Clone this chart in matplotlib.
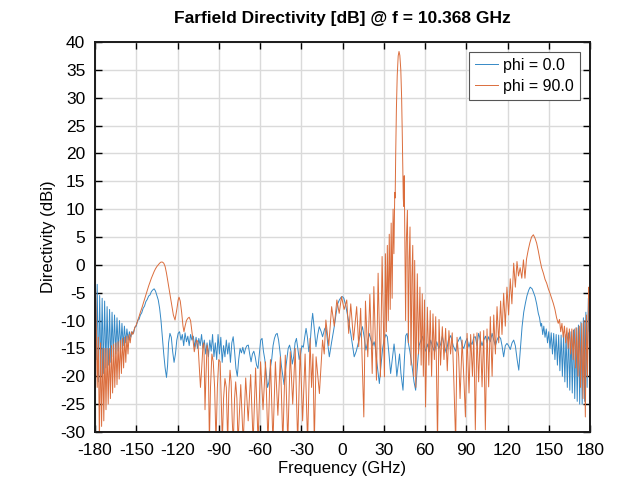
import matplotlib
matplotlib.use("Agg")
import matplotlib.pyplot as plt
import numpy as np

plt.rcParams['font.family'] = ['Liberation Sans', 'DejaVu Sans']
plt.rcParams['axes.unicode_minus'] = False

# phi = 0 cut: (theta [deg], directivity [dBi]) vertices
phi0_deg = [
    -180, -179.2, -178.4, -177.5, -176.6, -175.7, -174.8, -173.9, -173, -172.1, -171.2, -170.3,
    -169.4, -168.5, -167.6, -166.7, -165.8, -164.9, -164, -163.1, -162.2, -161.3, -160.4, -159.5,
    -158.6, -157.7, -156.8, -155.9, -155, -154, -153, -152, -151, -150, -149, -148, -147, -146,
    -145, -144, -143, -142, -141, -140, -139, -138, -137, -136, -135, -134, -133, -132, -131,
    -130, -129, -128, -127.2, -126.5, -125.5, -124.5, -123.5, -122.5, -121.5, -120.5, -119.5,
    -118.5, -117.5, -116.5, -115.5, -114.5, -113.5, -112.5, -111.5, -110.5, -109.5, -108.5,
    -107.5, -106.5, -105.5, -104.5, -103.5, -102.5, -101.5, -100.5, -99.5, -98.5, -97.5, -96.5,
    -95.5, -94.5, -93.5, -92.5, -91.5, -90.5, -89.5, -88.5, -87.5, -86.5, -85.5, -84.5, -83.5,
    -82.5, -81.5, -80.5, -79.5, -78.5, -77.5, -76.5, -75.5, -74.5, -73.5, -72.5, -71.5, -70.5,
    -69.5, -68.5, -67.5, -66.5, -65.5, -64.5, -63.5, -62.5, -61.5, -60.5, -59.5, -58.5, -57.5,
    -56.5, -55.5, -54.5, -53.5, -52.5, -51.5, -50.5, -49.5, -48.5, -47.5, -46.5, -45.5, -44.5,
    -43.5, -42.5, -41.5, -40.5, -39.5, -38.5, -37.5, -36.5, -35.5, -34.5, -33.5, -32.5, -31.5,
    -30.5, -29.5, -28.5, -27.5, -26.5, -25.5, -24.5, -23.5, -22.5, -21.7, -20.5, -19.3, -18,
    -16.9, -15.5, -14.5, -13, -12, -10.8, -9.6, -8, -6, -4.5, -3.5, -2.3, -1, 0, 1, 2.5, 4, 6,
    7.3, 8.5, 10, 12, 14.5, 15.8, 17, 18.2, 19.4, 20.7, 22, 23, 24, 25, 26.8, 28, 29.2, 30.2,
    31.5, 32.6, 33.8, 35, 36.2, 37.5, 38.5, 39.5, 40.5, 41.5, 42.5, 44, 45, 46, 47, 48, 49,
    50.5, 52, 53.2, 54.5, 55.7, 57, 58.1, 59.5, 60.5, 62, 63, 64.1, 65.5, 67, 68.5, 70, 71.3,
    72.6, 74, 75.5, 77, 78.7, 80.5, 82.3, 83.3, 84.5, 85.7, 87, 88.2, 89.5, 90.6, 92, 93, 94.2,
    95.5, 96.6, 97.8, 99, 100.3, 101.5, 102.7, 104, 105.1, 106.3, 107.5, 108.8, 110, 111.2,
    112.4, 113.6, 115, 116, 117.2, 118.4, 119.6, 120.8, 122, 123.3, 124.5, 125.7, 127, 128.2,
    129.4, 130.6, 131.8, 133, 134.2, 135.5, 136.5, 137.9, 139, 140, 141.2, 142.4, 143.3, 144.2,
    144.8, 145.6, 146.4, 147.3, 148.2, 149.1, 150, 150.9, 151.8, 152.7, 153.6, 154.5, 155.4,
    156.3, 157.2, 158.1, 159, 159.9, 160.8, 161.7, 162.6, 163.5, 164.4, 165.3, 166.2, 167.1,
    168, 168.9, 169.8, 170.7, 171.6, 172.5, 173.4, 174.3, 175.2, 176.1, 177, 177.9, 178.8,
    179.5, 180,
]
phi0_db = [
    -4, -17, -3.5, -21, -5.5, -20, -6, -19.5, -6.5, -18.5, -7.5, -18,
    -8, -17.5, -8.5, -16.5, -9, -16, -9.5, -15.5, -10, -15, -10.5, -14.5,
    -11, -14, -11.5, -13.5, -12, -13, -12, -12.3, -11.2, -11, -10, -9.8, -9, -8.6,
    -7.8, -7.4, -6.6, -6.2, -5.6, -5.4, -4.8, -4.5, -4.3, -4.7, -5.5, -6.3, -7.8, -10, -13,
    -16, -18.5, -20.2, -18, -14, -12.3, -13, -15.6, -17.5, -16, -13.5, -12.3,
    -12, -13.5, -12.5, -14.5, -12.2, -13.8, -12.8, -14.5, -12.5, -13.5, -12.8,
    -14.8, -13, -15, -13.2, -14.5, -12.5, -15, -13.5, -16, -14, -16.5, -13.5,
    -15.5, -12.5, -16.5, -14, -17, -12.5, -16, -13, -17.5, -14.5, -16.5, -13.5, -16,
    -14, -17.5, -14, -12.9, -15.5, -18.6, -20, -17, -15, -15.8, -14.8, -16, -15,
    -14.5, -14.4, -16, -17.4, -16, -15.5, -16.5, -18, -18.6, -16, -13.5, -13.2, -15.5,
    -17, -19.5, -22, -21, -18.5, -17, -14.5, -13.2, -12.5, -12.3, -13.5, -15.5, -18,
    -19.8, -21.5, -19, -17, -15, -14.4, -15.5, -17.8, -16.5, -14, -13.2, -15, -17,
    -16, -14.5, -14.8, -13, -11.4, -13, -15.6, -14, -10.5, -8.7, -11.5, -14.7, -12.5,
    -11.1, -12, -12.9, -11.5, -11.1, -14, -16.5, -14, -11.1, -8.5, -7, -6.3, -5.8, -5.7, -6, -7.5, -9.5, -12.3,
    -14.5, -16.5, -15.5, -13.5, -11.1, -13, -15.3, -14, -12.3, -13.5, -14.5, -13.8, -15, -17.5, -21.3, -18, -15, -13.5,
    -12.5, -12.9, -16, -19.5, -17, -14.2, -16.5, -20, -18, -16, -19.5, -22.5, -17, -12.7, -12.3, -14.2, -15.5,
    -18, -21, -22.5, -18, -14.5, -13.5, -12.8, -14.5, -15.5, -14.2, -15.6, -13.5, -14.7, -15.6, -13.8, -15, -14.3,
    -12.8, -14.5, -15.8, -13.5, -12.7, -14.5, -15.5, -14.1, -13.5, -12.9, -14.5, -15, -13.8, -13.2, -14.8, -13.8, -14.3,
    -13, -12.9, -14.5, -12.3, -13.5, -14.5, -13.5, -12.8, -14, -12.9, -13.8, -12.3, -13.5, -14.5,
    -13.5, -12.8, -13.2, -14.5, -16.5, -14.5, -14.1, -14.5, -15.2, -14, -13.5, -14.5, -17, -18.9,
    -15, -11.1, -8.5, -6.9, -5.5, -4.5, -4, -4.3, -5, -5.7, -7, -8.7, -9.5, -11,
    -10.5, -12.5, -11, -13, -11.5, -14, -12, -15, -12.2, -16, -12.3, -17, -12.5,
    -18, -12.6, -19, -12.6, -20, -12.5, -21, -12.5, -22, -12.2, -22.5, -12, -23,
    -11.7, -24, -11.3, -24.5, -10.8, -25, -10.3, -25, -9.5, -24.5, -8.5, -22, -6,
    -12, -3.5,
]

# phi = 90 cut: (theta [deg], directivity [dBi]) vertices
phi90_deg = [
    -180, -179.5, -179, -178.4, -177.6, -176.8, -176, -175.2, -174.4, -173.6, -172.8, -172,
    -171.2, -170.4, -169.6, -168.8, -168, -167.2, -166.4, -165.6, -164.8, -164, -163.2, -162.4,
    -161.6, -160.8, -160, -159.2, -158.4, -157.6, -156.8, -156, -155.2, -154.4, -153.5, -152.5,
    -151, -150, -149, -148, -147, -146, -145, -144, -143, -142, -141, -140, -139, -138, -137,
    -136, -135, -134, -133, -132, -131, -130, -129, -128, -127, -126, -125, -124, -123, -121.8,
    -120.5, -119.5, -118.9, -118, -117, -116, -115.3, -114.5, -113.5, -112.5, -111.5, -110.5,
    -109.5, -108.5, -107.8, -107, -106, -105.2, -104.2, -103.3, -102.5, -101.5, -100.8, -100,
    -99.3, -98.5, -97.7, -96.8, -96, -95, -94, -93, -92, -91, -90, -89, -88.2, -87.4, -86.5,
    -85.5, -84.5, -83.5, -82.7, -81.8, -81, -80.2, -79.4, -78.5, -77.7, -76.8, -76, -74,
    -72.2, -70.4, -68.6, -66.8, -65, -63.2, -61.4, -59.6, -57.8, -56, -54.2, -52.4, -50.6,
    -48.8, -47, -45.2, -43.4, -41.6, -39.8, -38, -36.2, -34.4, -32.6, -30.8, -29, -27.2, -25.4,
    -23.6, -22.5, -21.5, -20.5, -19.2, -16.8, -14.5, -13.3, -12.1, -10, -7.9, -6, -4.1, -2.4,
    -0.7, 1.2, 3.1, 4.5, 6, 8, 10.3, 11.8, 13.2, 15.5, 16.7, 18.4, 19.9, 21.6, 22.8, 24.7, 25.9,
    27.6, 28.8, 30.5, 31.2, 31.9, 32.6, 33.3, 34, 34.7, 35.4, 36.1, 36.8, 37.4, 38, 38.3, 38.7,
    39.2, 39.8, 40.5, 41.1, 41.7, 42.4, 43, 43.5, 43.9, 44.2, 44.5, 44.9, 45.4, 45.9, 46.4, 47.2,
    47.9, 48.5, 49.1, 49.8, 50.5, 51.1, 51.8, 52.5, 53.3, 54.4, 55.3, 56.3, 57.2, 58, 58.8, 59.6,
    60.4, 61.7, 62.8, 63.8, 64.8, 65.8, 66.8, 67.8, 69.1, 70.2, 71.3, 72.6, 73.8, 75, 76.2, 77.4,
    78.6, 79.8, 81, 82.3, 83.3, 84.5, 85.5, 87, 88.2, 89.4, 90.6, 92, 93.2, 94.5, 95.5, 96.6, 97.8,
    99, 100.2, 101.5, 102.7, 103.9, 105.1, 106.3, 107.5, 108.8, 110, 111.2, 112.4, 113.6, 115, 116,
    117.2, 118.4, 119.6, 120.8, 122, 123.2, 124.5, 125.7, 126.9, 128, 129.2, 130.4, 131.6, 132.7,
    133.8, 135.1, 136.3, 137.5, 138.8, 140, 141.2, 142.4, 143.6, 144.8, 146.1, 147.3, 148.5,
    149.7, 150.9, 152.1, 153.3, 154.5, 155.7, 156.9, 157.8, 158.7, 159.6, 160.5, 161.4, 162.3,
    163.2, 164.1, 165, 165.9, 166.8, 167.7, 168.6, 169.5, 170.4, 171.3, 172.2, 173.1, 174, 174.9,
    175.8, 176.6, 177.4, 178.2, 179, 179.5, 180,
]
phi90_db = [
    0, -5, -12, -22, -13, -32, -14, -29, -15, -28, -15, -26,
    -15, -25, -15, -24, -14.5, -23, -14.2, -22, -14, -21.5, -13.8, -20.5,
    -13.5, -19.5, -13.2, -18.5, -13, -17.5, -12.8, -16, -12.5, -14, -12, -12.5,
    -11.2, -10.8, -10, -9.3, -8.5, -7.8, -7, -6.2, -5.4, -4.6, -3.8, -3.1, -2.4, -1.8, -1.2,
    -0.7, -0.3, 0, 0.3, 0.5, 0.5, 0.3, -0.3, -1.5, -3, -4.5, -6, -7.5, -9, -9.9,
    -8, -6.3, -5.8, -6.5, -8.5, -11, -12, -11, -10, -9.6, -9.4, -10,
    -12, -14, -15.6, -14.5, -13.5, -13.8, -18, -22, -19, -14.5, -14, -26,
    -20, -14.4, -15.5, -32, -22, -16, -17.4, -22, -32, -22, -17, -17.4, -24, -32, -24,
    -20.4, -22, -32, -23, -18.9, -21, -28, -32, -24, -21, -24, -32, -21.5,
    -32, -20.3, -28, -19.7, -32, -18.5, -32, -17.4, -26, -17.4, -32, -17, -32,
    -17.4, -27, -16.5, -32, -16.2, -32, -15.6, -25, -15, -32, -15, -28, -16, -32,
    -13.2, -22, -16, -32, -16.5, -23.1, -13.5, -16, -9.9, -14.5, -7.5, -11, -6.3, -8.7,
    -5.7, -8, -6.3, -12.3, -7, -13.5, -7.5, -14.7, -7.8, -27.3, -6.5, -16.5, -5.3, -19.5, -3.9, -20.7, -1.5,
    -20.1, 1.5, -20.1, 2, -12, 3.5, -10, 5.5, -8, 7.5, -6, 10, 2, 13, 12, 20,
    28, 34, 37.5, 38.3, 37.6, 35, 30, 23, 16, 12, 10.5, 16, 2, -10, 4, 9.8,
    -14, 1, 6.8, -18, -2, 3.5, -20, 0.8, -22, -1.6, -16, -4, -18, -5.2, -20, -6.3,
    -25.5, -7.6, -18, -8.2, -20, -8.8, -17, -9.3, -32, -9.8, -18, -11.1, -17, -11.4, -19, -11.8,
    -16, -12.2, -21, -32, -13, -16.5, -24, -13.5, -20, -27.3, -12.3, -23, -12.5, -20, -12.4, -29.6, -12.2,
    -21, -12, -21.9, -11.8, -29.6, -11.5, -21.9, -9.3, -20, -9, -16, -7.5, -14, -6.5, -12.5,
    -5.1, -11, -4, -9, -2.5, -7, 0.3, -4, 0.6, -2, -0.5, -2.4, 0.9, -2.4,
    1, 2.7, 4, 5, 5.4, 4.8, 3.9, 2.5, 0.9, -0.5, -1.5, -2.6, -3.3,
    -4.3, -5.1, -6, -6.9, -8, -9.5, -10.5, -9.8, -12, -10.5, -13, -11, -14,
    -11.3, -15, -11.5, -16, -11.5, -17, -11.5, -18.5, -11.3, -20, -11, -22, -10.5, -24,
    -10, -27.3, -9, -20, -4, -6, -1.5,
]

x_ticks = list(range(-180, 181, 30))
y_ticks = list(range(-30, 41, 5))

fig = plt.figure(figsize=(6.30, 4.84), dpi=100)
ax = fig.add_axes([95 / 630, 1 - 432 / 484, 495 / 630, 390 / 484])

ax.plot(phi0_deg, phi0_db, color='#3589c6', lw=0.7, label='phi = 0.0')
ax.plot(phi90_deg, phi90_db, color='#db6d3c', lw=0.7, label='phi = 90.0')

ax.set_xlim(-180, 180)
ax.set_ylim(-30, 40)
ax.set_xticks(x_ticks)
ax.set_yticks(y_ticks)
ax.tick_params(direction='in', length=5, width=1.0, labelsize=12.5,
               top=True, right=True)
ax.tick_params(axis='x', pad=8)
ax.tick_params(axis='y', pad=7)
ax.grid(True, color='#dadada', lw=1.0)
ax.set_axisbelow(True)
for s in ax.spines.values():
    s.set_linewidth(1.4)
    s.set_color('#1a1a1a')

ax.set_xlabel('Frequency (GHz)', fontsize=12, labelpad=2)
ax.set_ylabel('Directivity (dBi)', fontsize=12, labelpad=3)
ax.set_title('Farfield Directivity [dB] @ f = 10.368 GHz', fontsize=12.5,
             fontweight='bold', pad=14)

leg = ax.legend(loc='upper right', fontsize=11.5, frameon=True, fancybox=False,
                edgecolor='#555555', framealpha=1, handlelength=1.4,
                borderaxespad=0.6, handletextpad=0.35, borderpad=0.4,
                labelspacing=0.35)
leg.get_frame().set_linewidth(0.8)

fig.savefig('out.png', dpi=100)
